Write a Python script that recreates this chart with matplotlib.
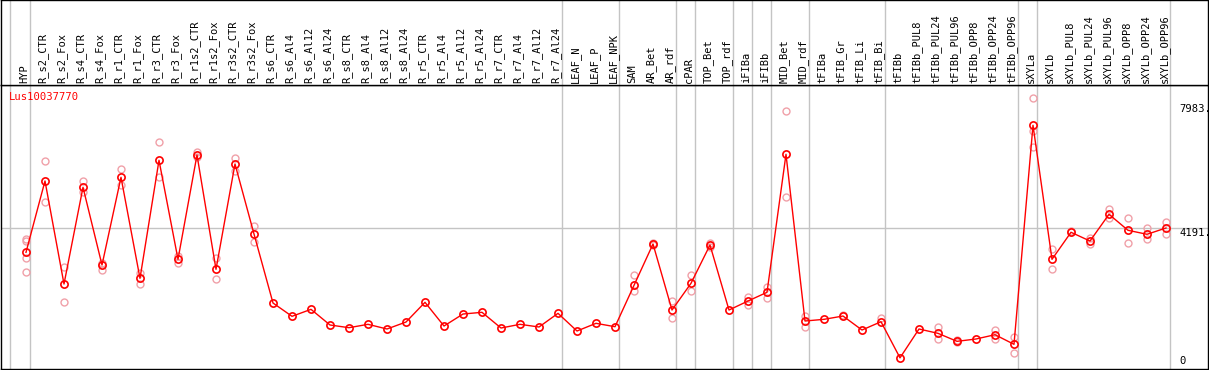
import matplotlib
matplotlib.use("Agg")
import matplotlib.pyplot as plt
import matplotlib.transforms as mtransforms

# sample names along the x axis
samples = ["HYP", "R_s2_CTR", "R_s2_Fox", "R_s4_CTR", "R_s4_Fox", "R_r1_CTR", "R_r1_Fox",
           "R_r3_CTR", "R_r3_Fox", "R_r1s2_CTR", "R_r1s2_Fox", "R_r3s2_CTR", "R_r3s2_Fox",
           "R_s6_CTR", "R_s6_Al4", "R_s6_Al12", "R_s6_Al24", "R_s8_CTR", "R_s8_Al4",
           "R_s8_Al12", "R_s8_Al24", "R_r5_CTR", "R_r5_Al4", "R_r5_Al12", "R_r5_Al24",
           "R_r7_CTR", "R_r7_Al4", "R_r7_Al12", "R_r7_Al24", "LEAF_N", "LEAF_P", "LEAF_NPK",
           "SAM", "AR_Bet", "AR_rdf", "cPAR", "TOP_Bet", "TOP_rdf", "iFIBa", "iFIBb",
           "MID_Bet", "MID_rdf", "tFIBa", "tFIB_Gr", "tFIB_Li", "tFIB_Bi", "tFIBb",
           "tFIBb_PUL8", "tFIBb_PUL24", "tFIBb_PUL96", "tFIBb_OPP8", "tFIBb_OPP24",
           "tFIBb_OPP96", "sXYLa", "sXYLb", "sXYLb_PUL8", "sXYLb_PUL24", "sXYLb_PUL96",
           "sXYLb_OPP8", "sXYLb_OPP24", "sXYLb_OPP96"]

# mean expression per sample
means = [3459, 5635, 2492, 5442, 3072, 5747, 2666, 6266, 3246, 6428, 2941, 6153, 4018,
         1913, 1507, 1720, 1242, 1160, 1263, 1120, 1333, 1934, 1211, 1577, 1629,
         1150, 1263, 1181, 1598, 1059, 1293, 1190,
         2452, 3713, 1699, 2514, 3682, 1699, 1974, 2239, 6449, 1364,
         1415, 1516, 1089, 1342, 240,
         1120, 988, 744, 815, 946, 653,
         7334, 3246, 4070, 3804, 4619, 4131, 4009, 4201]

# individual replicates (index -> values)
replicates = {
    0: [3865, 3813, 3276, 2849], 1: [6236, 5003], 2: [3002, 1934], 3: [5635, 5308],
    4: [3142, 2919], 5: [5991, 5513], 6: [2837, 2492], 7: [6815, 5747], 8: [3347, 3124],
    9: [6528, 6357], 10: [3295, 2636], 11: [6345, 5940], 12: [4262, 3783],
    32: [2776, 2270], 33: [3734, 3682], 34: [1974, 1446], 35: [2767, 2270],
    36: [3752, 3630], 38: [2096, 1852], 39: [2392, 2056], 40: [7770, 5146],
    41: [1516, 1190], 43: [1560], 45: [1464], 48: [1190, 805], 49: [784, 723],
    51: [1089, 824], 52: [876, 397], 53: [8157, 7169, 6681], 54: [3551, 2941],
    55: [4100], 56: [3887, 3703], 57: [4790, 4497], 58: [4506, 3734],
    59: [4201, 3856], 60: [4393, 4009],
}

# group separators (in sample index units)
separators = [-0.82, 0.23, 28.23, 31.2, 34.23, 35.23, 37.2, 38.2, 39.2, 41.2, 45.2,
              52.2, 53.23, 60.2]

gene = "Lus10037770"
y_max_label = 7983
y_mid_label = 4191

W, H = 1209, 370
fig = plt.figure(figsize=(W / 100, H / 100), dpi=100)
ax = fig.add_axes([1 / W, 1 / H, 1207 / W, 284 / H])
axh = fig.add_axes([1 / W, 285 / H, 1207 / W, 85 / H])

xlim = ((1 - 26) / 19, (1208 - 26) / 19)
for a in (ax, axh):
    a.set_xlim(*xlim)
    a.set_xticks([])
    a.set_yticks([])
    for s in a.spines.values():
        s.set_linewidth(1.0)
        s.set_color("black")
    for x in separators:
        a.axvline(x, color="#c4c4c4", lw=1.0, zorder=0)

ax.set_ylim(-100, 8563)
ax.axhline(y_mid_label, color="#c4c4c4", lw=1.0, zorder=0)

xs = list(range(len(samples)))
for i, vals in replicates.items():
    ax.plot([i] * len(vals), vals, "o", ms=5.0, mfc="none", mec="#f0a0a8", mew=1.0,
            zorder=2)
ax.plot(xs, means, "-", color="red", lw=1.0, zorder=3)
ax.plot(xs, means, "o", ms=5.2, mfc="none", mec="red", mew=1.2, zorder=4)

trans = mtransforms.blended_transform_factory(axh.transData, axh.transAxes)
for i, name in enumerate(samples):
    axh.text(i - 0.09, 0.025, name, rotation=90, ha="center", va="bottom",
             fontsize=7.5, family="DejaVu Sans Mono", transform=trans)

xr = (1179 - 26) / 19
ax.text(xr, y_max_label, "%d." % y_max_label, ha="left", va="top", fontsize=7.6,
        family="DejaVu Sans Mono")
ax.text(xr, y_mid_label, "%d." % y_mid_label, ha="left", va="top", fontsize=7.6,
        family="DejaVu Sans Mono")
ax.text(xr, 0, "0", ha="left", va="bottom", fontsize=7.6, family="DejaVu Sans Mono")

fig.text(9 / W, 1 - 97 / H, gene, color="red", ha="left", va="center", fontsize=7.6,
         family="DejaVu Sans Mono")

fig.savefig("out.png", dpi=100)
